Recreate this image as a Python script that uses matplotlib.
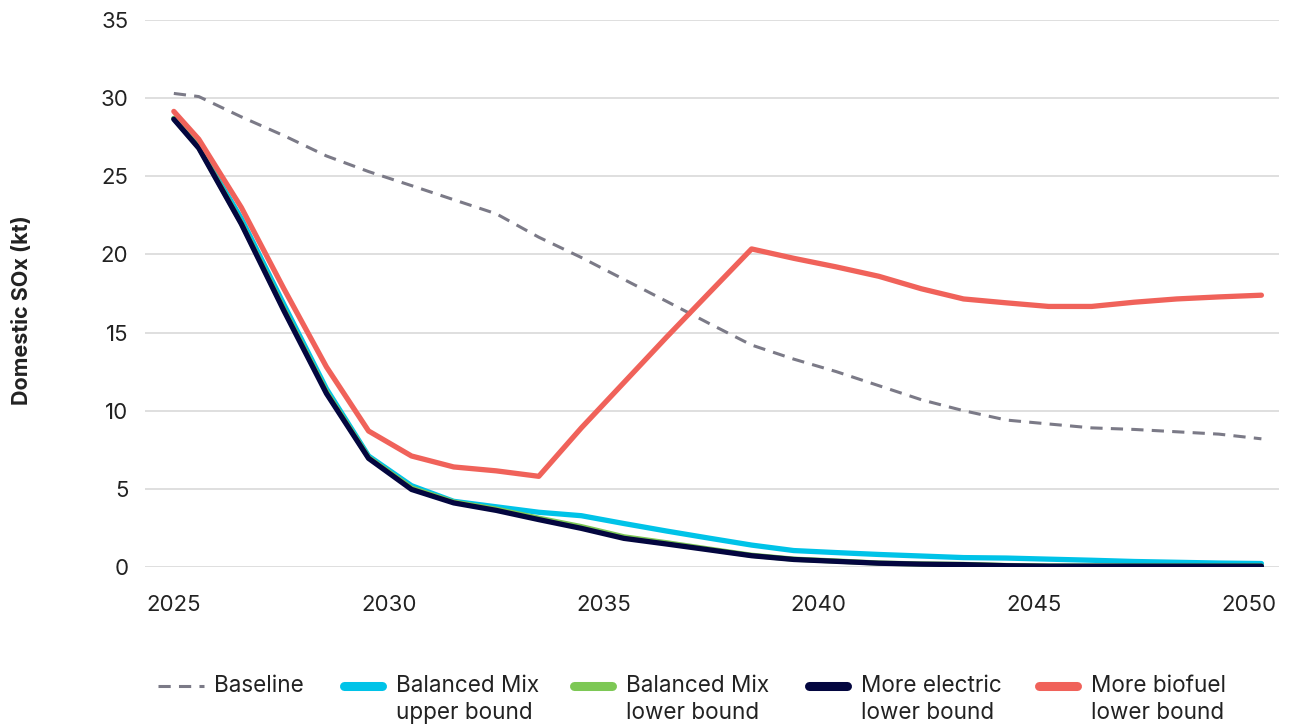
import matplotlib.pyplot as plt
from matplotlib.lines import Line2D

plt.rcParams['font.family'] = ['Inter', 'DejaVu Sans']

# x positions of the points (years)
years = [2025.0, 2025.58, 2026.57, 2027.56, 2028.55, 2029.53, 2030.53, 2031.51, 2032.50,
         2033.49, 2034.48, 2035.47, 2036.46, 2037.44, 2038.44, 2039.42, 2040.41, 2041.40,
         2042.39, 2043.37, 2044.37, 2045.35, 2046.35, 2047.34, 2048.33, 2049.31, 2050.30]

baseline = [30.3, 30.1, 28.8, 27.6, 26.3, 25.3, 24.4, 23.5, 22.6, 21.1, 19.8, 18.4, 17.0, 15.6,
            14.2, 13.3, 12.5, 11.6, 10.7, 10.0, 9.4, 9.15, 8.9, 8.8, 8.65, 8.5, 8.2]
balanced_upper = [28.7, 26.9, 22.3, 16.8, 11.4, 7.1, 5.2, 4.2, 3.85, 3.5, 3.28, 2.78, 2.3, 1.85,
                  1.4, 1.05, 0.92, 0.8, 0.7, 0.6, 0.57, 0.5, 0.43, 0.35, 0.3, 0.25, 0.22]
balanced_lower = [28.7, 26.85, 22.0, 16.5, 11.2, 7.0, 5.05, 4.15, 3.7, 3.12, 2.58, 1.93, 1.55, 1.15,
                  0.75, 0.5, 0.38, 0.25, 0.19, 0.16, 0.09, 0.06, 0.06, 0.06, 0.06, 0.06, 0.06]
electric_lower = [28.65, 26.8, 21.95, 16.4, 11.1, 6.95, 4.96, 4.1, 3.62, 3.03, 2.47, 1.83, 1.47, 1.1,
                  0.72, 0.48, 0.36, 0.24, 0.18, 0.15, 0.08, 0.05, 0.05, 0.05, 0.05, 0.05, 0.05]
biofuel_lower = [29.15, 27.37, 23.0, 17.8, 12.8, 8.7, 7.1, 6.4, 6.15, 5.8, 8.9, 11.8, 14.7, 17.5,
                 20.35, 19.75, 19.2, 18.6, 17.8, 17.15, 16.9, 16.67, 16.67, 16.94, 17.15, 17.28, 17.39]

labels = ['Baseline', 'Balanced Mix\nupper bound', 'Balanced Mix\nlower bound',
          'More electric\nlower bound', 'More biofuel\nlower bound']
colors = ['#7b7a87', '#00c3e8', '#7dc855', '#03063f', '#f0625a']

fig = plt.figure(figsize=(12.95, 7.24), dpi=100)
ax = fig.add_axes([0.112, 0.2169, 0.876, 0.7555])

ax.plot(years, baseline, color=colors[0], lw=2.2, dashes=(4, 2.7), zorder=3)
ax.plot(years, balanced_upper, color=colors[1], lw=3.8, solid_capstyle='round', zorder=4)
ax.plot(years, balanced_lower, color=colors[2], lw=3.8, solid_capstyle='round', zorder=5)
ax.plot(years, electric_lower, color=colors[3], lw=3.8, solid_capstyle='round', zorder=6)
ax.plot(years, biofuel_lower, color=colors[4], lw=3.8, solid_capstyle='round', zorder=7)

ax.set_xlim(2024.33, 2050.72)
ax.set_ylim(0, 35)
ax.set_yticks(range(0, 36, 5))
ax.set_xticks(range(2025, 2051, 5))
ax.grid(axis='y', color='#dcdcdc', lw=1.3)
ax.set_axisbelow(True)
for s in ax.spines.values():
    s.set_visible(False)
ax.tick_params(axis='y', length=0, pad=12, labelsize=16, labelcolor='#222222')
ax.tick_params(axis='x', length=0, pad=20, labelsize=16, labelcolor='#222222')

fig.text(22 / 1295, 1 - 310 / 724, 'Domestic SOx (kt)', rotation=90, ha='center', va='center',
         fontsize=15.5, fontweight='bold', color='#222222')

# legend drawn by hand so the handle sits on the first text line
hx = [158, 340, 570, 805, 1035]
for i, lab in enumerate(labels):
    x0 = hx[i] / 1295
    x1 = (hx[i] + 46) / 1295
    yy = 1 - 686 / 724
    if i == 0:
        ln = Line2D([x0, x1], [yy, yy], transform=fig.transFigure, color=colors[0], lw=2.2,
                    dashes=(4, 2.7))
    else:
        ln = Line2D([x0 + 0.003, x1 - 0.003], [yy, yy], transform=fig.transFigure, color=colors[i],
                    lw=6.5, solid_capstyle='round')
    fig.add_artist(ln)
    for j, part in enumerate(lab.split('\n')):
        fig.text((hx[i] + 56) / 1295, 1 - (686 + 27 * j) / 724, part, ha='left', va='center',
                 fontsize=16.2, color='#222222')

fig.savefig('out.png', dpi=100)
